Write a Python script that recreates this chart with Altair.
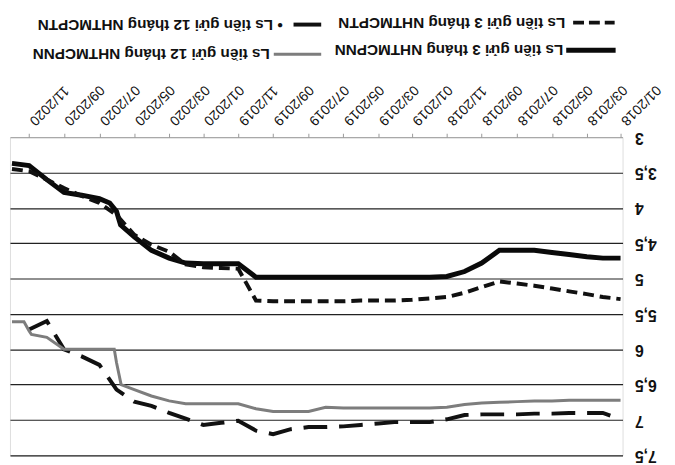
import altair as alt
import pandas as pd

# ---------------- data ----------------
months = [
    "2018-01-01", "2018-02-01", "2018-03-01", "2018-04-01", "2018-05-01", "2018-06-01",
    "2018-07-01", "2018-08-01", "2018-09-01", "2018-10-01", "2018-11-01", "2018-12-01",
    "2019-01-01", "2019-02-01", "2019-03-01", "2019-04-01", "2019-05-01", "2019-06-01",
    "2019-07-01", "2019-08-01", "2019-09-01", "2019-10-01", "2019-11-01", "2019-12-01",
    "2020-01-01", "2020-02-01", "2020-03-01", "2020-04-01", "2020-05-01", "2020-06-01",
    "2020-07-01", "2020-08-01", "2020-09-01", "2020-10-01", "2020-11-01", "2020-12-01",
]

tick_months = [
    "2018-01-01", "2018-03-01", "2018-05-01", "2018-07-01", "2018-09-01", "2018-11-01",
    "2019-01-01", "2019-03-01", "2019-05-01", "2019-07-01", "2019-09-01", "2019-11-01",
    "2020-01-01", "2020-03-01", "2020-05-01", "2020-07-01", "2020-09-01", "2020-11-01",
]

y_ticks = [3, 3.5, 4, 4.5, 5, 5.5, 6, 6.5, 7, 7.5]

series_names = [
    "Ls tiền gửi 3 tháng NHTMCPNN",
    "Ls tiền gửi 3 tháng NHTMCPTN",
    "Ls tiền gửi 12 tháng NHTMCPNN",
    "Ls tiền gửi 12 tháng NHTMCPTN",
]

# 3-month deposit rate, state-owned banks (thick solid)
nn3_values = [4.71, 4.71, 4.69, 4.66, 4.63, 4.60, 4.60, 4.60, 4.78, 4.90, 4.97, 4.98,
              4.98, 4.98, 4.98, 4.98, 4.98, 4.98, 4.98, 4.98, 4.98, 4.98, 4.79, 4.79,
              4.79, 4.78, 4.71, 4.60, 4.41, 4.05, 3.87, 3.82, 3.78, 3.60, 3.40, 3.37]
nn3_extra_dates = ["2020-05-25", "2020-06-13"]
nn3_extra_values = [4.24, 3.93]

# 3-month deposit rate, joint-stock banks (short dashes)
tn3_values = [5.29, 5.26, 5.22, 5.18, 5.14, 5.10, 5.07, 5.04, 5.12, 5.20, 5.26, 5.28,
              5.30, 5.31, 5.31, 5.31, 5.32, 5.32, 5.32, 5.32, 5.32, 5.31, 4.86, 4.85,
              4.84, 4.80, 4.62, 4.52, 4.38, 4.10, 3.93, 3.83, 3.72, 3.60, 3.48, 3.45]

# 12-month deposit rate, state-owned banks (grey)
nn12_values = [6.72, 6.72, 6.72, 6.72, 6.73, 6.73, 6.74, 6.75, 6.76, 6.78, 6.82, 6.83,
               6.83, 6.83, 6.83, 6.83, 6.83, 6.82, 6.88, 6.88, 6.88, 6.84, 6.77, 6.77,
               6.77, 6.77, 6.73, 6.66, 6.57, 6.19, 6.00, 6.00, 6.00, 5.83, 5.74, 5.61]
nn12_extra_dates = ["2020-05-24", "2020-06-05", "2020-10-28", "2020-11-10"]
nn12_extra_values = [6.50, 6.00, 5.79, 5.61]

# 12-month deposit rate, joint-stock banks (long dashes), Jan 2018 - Nov 2020
tn12_values = [6.99, 6.90, 6.90, 6.90, 6.91, 6.91, 6.92, 6.92, 6.92, 6.93, 6.99, 7.03,
               7.03, 7.03, 7.05, 7.07, 7.09, 7.10, 7.10, 7.13, 7.20, 7.15, 7.01, 7.04,
               7.07, 6.98, 6.90, 6.80, 6.74, 6.57, 6.22, 6.10, 6.00, 5.60, 5.72]


def frame(dates, values):
    df = pd.DataFrame({"date": [d + "T00:00:00" for d in dates], "rate": values})
    return df.sort_values("date").reset_index(drop=True)


df_nn3 = frame(months + nn3_extra_dates, nn3_values + nn3_extra_values)
df_tn3 = frame(months, tn3_values)
df_nn12 = frame(months + nn12_extra_dates, nn12_values + nn12_extra_values)
df_tn12 = frame(months[:len(tn12_values)], tn12_values)


def dt(s):
    y, m, d = (int(p) for p in s.split("-"))
    return alt.DateTime(year=y, month=m, date=d)


FONT = "Liberation Sans"

x_enc = alt.X(
    "date:T",
    title=None,
    scale=alt.Scale(
        domain=[alt.DateTime(year=2017, month=12, date=28, hours=12),
                alt.DateTime(year=2020, month=12, date=4, hours=12)],
        reverse=True,
        nice=False,
    ),
    axis=alt.Axis(
        orient="top",
        values=[dt(s) for s in tick_months],
        format="%m/%Y",
        labelAngle=135,
        labelAlign="right",
        labelBaseline="middle",
        labelPadding=11,
        labelOffset=2,
        labelFontSize=14,
        labelFont=FONT,
        labelColor="#111111",
        labelOverlap=False,
        labelFlush=False,
        labelBound=False,
        tickSize=4,
        tickColor="#999999",
        domainColor="#999999",
        domainWidth=1,
        grid=False,
    ),
)

y_enc = alt.Y(
    "rate:Q",
    title=None,
    scale=alt.Scale(domain=[3, 7.5], reverse=True, nice=False, zero=False),
    axis=alt.Axis(
        orient="right",
        values=y_ticks,
        labelExpr="replace(toString(datum.value), '.', ',')",
        labelAngle=180,
        labelAlign="right",
        labelBaseline="middle",
        labelPadding=12,
        labelFontSize=16,
        labelFont=FONT,
        labelFontWeight="bold",
        labelColor="#111111",
        domain=False,
        ticks=False,
        grid=True,
        gridColor="#222222",
        gridWidth=1.2,
        gridOpacity={"condition": {"test": "datum.value === 3", "value": 0}, "value": 1},
    ),
)

line_tn12 = alt.Chart(df_tn12).mark_line(
    color="#111111", strokeWidth=4, strokeDash=[24, 12]
).encode(x=x_enc, y=y_enc)

line_nn12 = alt.Chart(df_nn12).mark_line(
    color="#7d7d7d", strokeWidth=3
).encode(x=x_enc, y=y_enc)

line_nn3 = alt.Chart(df_nn3).mark_line(
    color="#0a0a0a", strokeWidth=5
).encode(x=x_enc, y=y_enc)

line_tn3 = alt.Chart(df_tn3).mark_line(
    color="#111111", strokeWidth=4, strokeDash=[11, 6]
).encode(x=x_enc, y=y_enc)

# ---------------- manual legend (upside-down text) ----------------
one = pd.DataFrame({"k": [0]})


def legend_symbol(x1, x2, y, color, width, dash=None):
    kw = dict(color=color, strokeWidth=width)
    if dash is not None:
        kw["strokeDash"] = dash
    return alt.Chart(one).mark_rule(**kw).encode(
        x=alt.value(x1), x2=alt.value(x2), y=alt.value(y)
    )


def legend_text(x, y, label):
    return alt.Chart(one).mark_text(
        angle=180, align="left", baseline="middle", fontSize=15.5,
        fontWeight="bold", font=FONT, color="#111111"
    ).encode(x=alt.value(x), y=alt.value(y), text=alt.value(label))


legend_layers = [
    legend_symbol(570, 612, -116, "#111111", 4, [11, 5]),
    legend_text(562, -116, series_names[1]),
    legend_symbol(563, 613, -88, "#0a0a0a", 5),
    legend_text(560, -88, series_names[0]),
    legend_symbol(287, 315, -114, "#111111", 4),
    legend_text(276, -114, "• " + series_names[3]),
    legend_symbol(267, 315, -84, "#7d7d7d", 3),
    legend_text(263, -84, series_names[2]),
]

chart = alt.layer(
    line_tn12, line_nn12, line_nn3, line_tn3, *legend_layers
).properties(
    width=620,
    height=322,
    autosize=alt.AutoSizeParams(type="none"),
    padding={"left": 2, "top": 128, "right": 45, "bottom": 9},
    background="white",
).configure_view(stroke=None).configure(font=FONT)

chart.save("out.html", embed_options={"renderer": "svg", "actions": False})
